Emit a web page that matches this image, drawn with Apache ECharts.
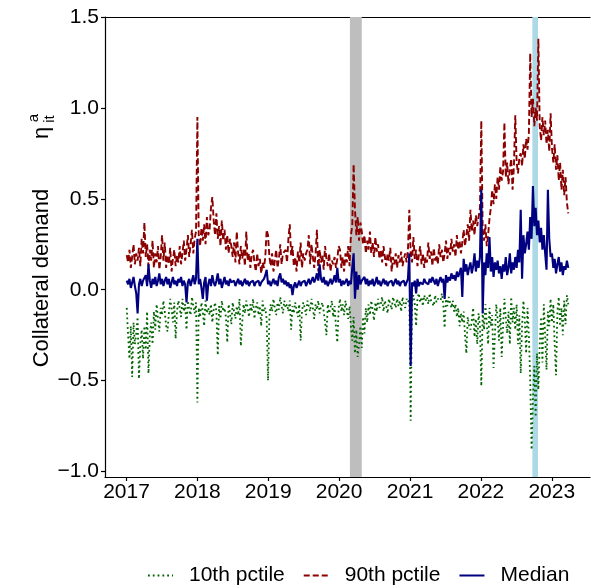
<!DOCTYPE html>
<html><head><meta charset="utf-8">
<script src="https://cdn.jsdelivr.net/npm/echarts@6/dist/echarts.min.js"></script>
<style>html,body{margin:0;padding:0;background:#fff}#c{width:591px;height:588px}</style>
</head><body><div id="c"></div>
<script>
// ---- data (weekly observations starting on firstWeek) ----
const seriesNames = ['10th pctile', '90th pctile', 'Median'];
const firstWeek = '2017-01-02';
const yearTicks = [2017, 2018, 2019, 2020, 2021, 2022, 2023];
const yTicks = [-1, -0.5, 0, 0.5, 1, 1.5];
const covidBand = ['2020-02-26', '2020-04-27'];
const giltBand = ['2022-09-23', '2022-10-22'];

const p90 = [
  // 2017
  0.19,0.15,0.22,0.12,0.18,0.25,0.14,0.2,0.16,0.23,0.13,0.28,0.2,
  0.37,0.18,0.25,0.13,0.22,0.16,0.27,0.12,0.2,0.15,0.24,0.11,0.18,
  0.3,0.16,0.26,0.12,0.19,0.14,0.23,0.1,0.17,0.22,0.13,0.19,0.15,
  0.24,0.14,0.2,0.27,0.16,0.22,0.3,0.18,0.25,0.33,0.2,0.28,0.32,
  // 2018
  0.95,0.3,0.24,0.34,0.27,0.36,0.25,0.4,0.3,0.33,0.45,0.51,0.38,
  0.3,0.42,0.28,0.35,0.24,0.38,0.27,0.33,0.22,0.3,0.2,0.28,0.24,
  0.18,0.26,0.15,0.32,0.2,0.14,0.24,0.17,0.22,0.13,0.32,0.16,0.2,
  0.12,0.19,0.22,0.15,0.1,0.2,0.13,0.17,0.09,0.15,0.12,0.18,0.33,
  // 2019
  0.3,0.18,0.13,0.2,0.1,0.16,0.22,0.12,0.17,0.25,0.14,0.2,0.2,
  0.22,0.15,0.28,0.36,0.19,0.24,0.13,0.18,0.1,0.21,0.15,0.26,0.12,
  0.2,0.16,0.2,0.22,0.3,0.14,0.25,0.18,0.12,0.2,0.33,0.1,0.22,
  0.15,0.19,0.11,0.24,0.17,0.13,0.2,0.1,0.16,0.14,0.18,0.12,0.17,
  // 2020
  0.24,0.22,0.12,0.18,0.1,0.2,0.15,0.24,0.13,0.3,
  0.35,0.69,0.44,0.3,0.4,0.27,0.37,0.32,
  0.25,0.3,0.2,0.27,0.22,0.32,0.2,0.26,0.18,0.29,0.21,0.25,0.17,
  0.22,0.15,0.24,0.18,0.13,0.2,0.16,0.23,0.1,0.18,0.14,0.2,0.12,
  0.19,0.15,0.21,0.13,0.17,0.2,0.15,0.22,
  // 2021
  0.44,0.2,0.15,0.29,0.17,0.22,0.13,0.19,0.24,0.14,0.2,0.12,0.18,
  0.15,0.26,0.17,0.21,0.13,0.23,0.16,0.19,0.14,0.25,0.18,0.22,0.15,
  0.2,0.27,0.17,0.23,0.19,0.28,0.21,0.25,0.18,0.3,0.22,0.27,0.2,
  0.26,0.33,0.24,0.3,0.36,0.27,0.44,0.32,0.38,0.3,0.41,0.35,0.4,0.45,
  // 2022
  0.93,0.33,0.27,0.36,0.24,0.3,0.39,0.45,0.55,0.47,0.58,0.5,
  0.62,0.55,0.68,0.6,0.65,0.92,0.62,0.7,0.58,0.66,0.72,0.55,0.68,
  0.96,0.7,0.64,0.73,0.75,0.68,0.8,0.72,0.83,0.77,0.86,
  1.3,0.95,1.05,0.9,1.0,0.93,1.38,
  0.9,0.82,0.95,0.85,0.93,0.8,0.88,0.76,0.97,
  // 2023
  0.78,0.7,0.8,0.66,0.74,0.6,0.7,0.55,0.66,0.52,0.62,0.48,0.42
];

const median = [
  // 2017
  0.05,0.03,0.06,0.01,0.04,0.07,0.02,-0.02,-0.13,0.03,0.06,0.02,0.05,
  0.04,0.08,0.02,0.14,0.05,0.01,0.06,0.03,0.07,0.02,0.05,0.09,0.03,
  0.06,0.02,0.05,0.07,0.03,0.06,0.01,0.04,0.07,0.03,0.05,0.02,0.06,
  0.04,0.07,0.02,0.05,0.03,-0.07,0.04,0.06,0.02,0.05,0.08,0.03,0.06,
  // 2018
  0.28,0.03,0.06,0.01,-0.05,0.04,0.07,-0.06,0.03,0.06,0.02,0.08,0.04,
  0.02,0.05,0.09,0.03,0.06,0.01,0.04,0.07,0.03,0.05,0.02,0.06,0.04,
  0.03,0.05,0.02,0.04,0.06,0.03,0.05,0.02,0.04,0.06,0.03,0.05,0.02,
  0.04,0.03,0.05,0.02,0.04,0.03,0.05,0.02,0.04,0.03,0.06,0.08,0.11,
  // 2019
  0.03,0.05,0.02,0.04,0.06,0.03,0.05,0.02,0.07,0.09,0.04,0.06,0.03,
  0.05,0.02,0.04,0.01,0.03,-0.03,0.02,0.04,0.01,0.03,0.05,0.02,0.04,
  0.03,0.05,0.02,0.04,0.06,0.03,0.05,0.07,0.04,0.06,0.09,0.05,0.14,
  0.06,0.04,0.07,0.03,0.05,0.02,0.04,0.06,0.03,0.05,0.08,0.04,0.12,
  // 2020
  0.04,0.06,0.02,0.05,0.03,0.04,0.06,0.02,0.05,0.03,
  0.12,0.2,-0.05,0.1,0.0,0.08,0.03,0.05,
  0.04,0.07,0.03,0.06,0.02,0.05,0.03,0.06,0.02,0.04,0.07,0.03,0.05,
  0.02,0.04,0.06,0.03,0.05,0.02,0.04,0.03,0.05,0.02,0.04,0.06,0.03,
  0.05,0.02,0.04,0.03,0.05,0.02,0.04,0.06,
  // 2021
  0.2,-0.42,0.04,0.02,0.05,-0.02,0.06,0.02,0.04,0.05,0.03,0.06,0.04,
  0.05,0.03,0.06,0.04,0.07,0.05,0.03,0.06,0.02,0.05,0.07,0.04,0.06,
  -0.05,0.08,0.04,0.07,0.05,0.09,0.06,0.08,0.05,0.1,0.07,0.06,0.12,
  -0.04,0.17,0.1,0.14,0.08,0.12,0.15,0.09,0.13,0.2,0.1,0.16,0.12,0.18,
  // 2022
  0.55,-0.13,0.15,0.08,0.2,0.12,0.29,0.1,0.18,0.07,0.15,0.11,
  0.16,0.09,0.13,0.06,0.14,0.1,0.18,0.08,0.12,0.2,0.09,0.15,0.11,
  0.18,0.12,0.22,0.15,0.44,0.06,0.3,0.2,0.25,0.32,0.22,
  0.4,0.28,0.57,0.35,0.45,0.3,0.38,
  0.26,0.34,0.22,0.3,0.2,0.11,0.55,0.28,0.18,
  // 2023
  0.2,0.12,0.17,0.09,0.14,0.18,0.1,0.15,0.08,0.13,0.11,0.16,0.12
];

const p10 = [
  // 2017
  -0.1,-0.25,-0.38,-0.2,-0.48,-0.18,-0.3,-0.24,-0.15,-0.49,-0.3,-0.22,-0.38,
  -0.2,-0.33,-0.12,-0.46,-0.25,-0.18,-0.3,-0.12,-0.22,-0.08,-0.16,-0.23,-0.1,
  -0.14,-0.06,-0.12,-0.2,-0.23,-0.13,-0.05,-0.1,-0.18,-0.07,-0.27,-0.12,-0.06,
  -0.1,-0.15,-0.05,-0.12,-0.08,-0.22,-0.06,-0.11,-0.14,-0.04,-0.09,-0.13,-0.07,
  // 2018
  -0.62,-0.1,-0.15,-0.07,-0.12,-0.2,-0.06,-0.13,-0.1,-0.14,-0.08,-0.18,-0.11,
  -0.07,-0.12,-0.36,-0.09,-0.16,-0.06,-0.12,-0.1,-0.15,-0.29,-0.08,-0.13,-0.19,
  -0.07,-0.12,-0.16,-0.09,-0.14,-0.05,-0.31,-0.18,-0.08,-0.13,-0.06,-0.1,-0.15,
  -0.08,-0.12,-0.05,-0.16,-0.1,-0.07,-0.14,-0.09,-0.2,-0.06,-0.12,-0.1,-0.16,
  // 2019
  -0.5,-0.15,-0.08,-0.12,-0.05,-0.1,-0.14,-0.07,-0.11,-0.04,-0.09,-0.13,-0.06,
  -0.1,-0.08,-0.12,-0.06,-0.22,-0.09,-0.13,-0.07,-0.11,-0.15,-0.08,-0.28,-0.12,
  -0.07,-0.1,-0.14,-0.06,-0.09,-0.12,-0.05,-0.1,-0.16,-0.08,-0.11,-0.06,-0.13,
  -0.09,-0.07,-0.12,-0.18,-0.25,-0.08,-0.13,-0.1,-0.06,-0.15,-0.09,-0.2,-0.29,
  // 2020
  -0.1,-0.05,-0.12,-0.08,-0.14,-0.06,-0.11,-0.16,-0.09,-0.2,
  -0.28,-0.15,-0.35,-0.22,-0.37,-0.3,-0.2,-0.32,
  -0.15,-0.24,-0.1,-0.18,-0.08,-0.14,-0.06,-0.11,-0.17,-0.07,-0.12,-0.05,-0.1,
  -0.08,-0.04,-0.12,-0.06,-0.09,-0.13,-0.05,-0.08,-0.11,-0.04,-0.07,-0.1,-0.05,
  -0.09,-0.06,-0.12,-0.04,-0.08,-0.1,-0.05,-0.07,
  // 2021
  -0.05,-0.72,-0.06,-0.03,-0.08,-0.2,-0.05,-0.02,-0.07,-0.04,-0.09,-0.03,-0.06,
  -0.04,-0.08,-0.02,-0.06,-0.05,-0.09,-0.03,-0.07,-0.05,-0.04,-0.06,-0.02,-0.08,
  -0.21,-0.05,-0.09,-0.04,-0.07,-0.1,-0.06,-0.12,-0.08,-0.15,-0.1,-0.2,-0.13,
  -0.18,-0.12,-0.25,-0.35,-0.15,-0.2,-0.22,-0.17,-0.1,-0.26,-0.16,-0.3,-0.13,-0.2,
  // 2022
  -0.53,-0.12,-0.22,-0.08,-0.18,-0.3,-0.1,-0.2,-0.14,-0.43,-0.25,-0.08,
  -0.16,-0.28,-0.1,-0.37,-0.2,-0.05,-0.15,-0.24,-0.12,-0.3,-0.04,-0.18,-0.1,
  -0.22,-0.08,-0.3,-0.14,-0.46,-0.2,-0.06,-0.16,-0.35,-0.1,-0.25,
  -0.5,-0.88,-0.6,-0.42,-0.7,-0.35,-0.55,
  -0.3,-0.15,-0.4,-0.08,-0.25,-0.44,-0.12,-0.2,-0.05,
  // 2023
  -0.18,-0.08,-0.3,-0.47,-0.12,-0.04,-0.2,-0.1,-0.25,-0.06,-0.19,-0.03,-0.08
];

// ---- build ----
const DAY = 86400000;
const t0 = Date.parse(firstWeek);
const withDates = arr => arr.map((v, i) => [t0 + i * 7 * DAY, v]);
const yearMs = yearTicks.map(y => Date.UTC(y, 0, 1));
const xMin = Date.UTC(2016, 8, 12), xMax = Date.UTC(2023, 6, 17);
const FONT = 'Liberation Sans';
const fmtY = v => (v < 0 ? '\u2212' : '') + Math.abs(v).toFixed(1);

const chart = echarts.init(document.getElementById('c'), null, {renderer: 'canvas'});
chart.setOption({
  animation: false,
  backgroundColor: '#fff',
  grid: {left: 105, right: 1, top: 17, bottom: 111, containLabel: false},
  xAxis: [{
    type: 'value', min: xMin, max: xMax, position: 'bottom',
    splitLine: {show: false},
    axisLine: {show: true, onZero: false, lineStyle: {color: '#000', width: 1.2}},
    axisTick: {show: true, customValues: yearMs, length: 4, lineStyle: {color: '#000', width: 1.2}},
    axisLabel: {customValues: yearMs, formatter: v => String(new Date(v).getUTCFullYear()),
      color: '#000', fontSize: 21, fontFamily: FONT, margin: 5}
  }, {
    type: 'value', min: xMin, max: xMax, position: 'top',
    splitLine: {show: false},
    axisLine: {show: true, onZero: false, lineStyle: {color: '#000', width: 1.2}},
    axisTick: {show: false}, axisLabel: {show: false}
  }],
  yAxis: {
    type: 'value', min: -1.03, max: 1.5,
    splitLine: {show: false},
    axisLine: {show: true, onZero: false, lineStyle: {color: '#000', width: 1.2}},
    axisTick: {show: true, customValues: yTicks, length: 4, lineStyle: {color: '#000', width: 1.2}},
    axisLabel: {customValues: yTicks, formatter: fmtY, color: '#000', fontSize: 21, fontFamily: FONT, margin: 6}
  },
  legend: {
    top: 565, left: 147, padding: 0, itemGap: 18,
    itemWidth: 25, itemHeight: 14,
    itemStyle: {color: 'transparent', borderColor: 'transparent', borderWidth: 0, opacity: 0},
    textStyle: {fontSize: 21, fontFamily: FONT, color: '#000', padding: [0, 0, 0, 11]},
    data: seriesNames
  },
  graphic: [
    {type: 'text', x: 42, y: 278, rotation: Math.PI / 2,
      style: {text: 'Collateral demand', font: '22px "Liberation Sans"', fill: '#000', align: 'center', verticalAlign: 'middle'}},
    {type: 'text', x: 42, y: 133, rotation: Math.PI / 2,
      style: {text: '\u03b7', font: '22px "Liberation Sans"', fill: '#000', align: 'center', verticalAlign: 'middle'}},
    {type: 'text', x: 34, y: 118, rotation: Math.PI / 2,
      style: {text: 'a', font: '15px "Liberation Sans"', fill: '#000', align: 'center', verticalAlign: 'middle'}},
    {type: 'text', x: 50, y: 119, rotation: Math.PI / 2,
      style: {text: 'it', font: '15px "Liberation Sans"', fill: '#000', align: 'center', verticalAlign: 'middle'}}
  ],
  series: [
    {name: seriesNames[0], type: 'line', data: withDates(p10), symbol: 'none',
      lineStyle: {color: '#006400', width: 1.8, type: [1.8, 3]}, itemStyle: {color: '#006400'},
      markArea: {silent: true, data: [
        [{xAxis: Date.parse(covidBand[0]), itemStyle: {color: '#bebebe'}}, {xAxis: Date.parse(covidBand[1])}],
        [{xAxis: Date.parse(giltBand[0]), itemStyle: {color: '#add8e6'}}, {xAxis: Date.parse(giltBand[1])}]
      ]}},
    {name: seriesNames[1], type: 'line', data: withDates(p90), symbol: 'none',
      lineStyle: {color: '#8b0000', width: 1.9, type: [6, 3]}, itemStyle: {color: '#8b0000'}},
    {name: seriesNames[2], type: 'line', data: withDates(median), symbol: 'none',
      lineStyle: {color: '#000080', width: 2.1}, itemStyle: {color: '#000080'}}
  ]
});
</script></body></html>
